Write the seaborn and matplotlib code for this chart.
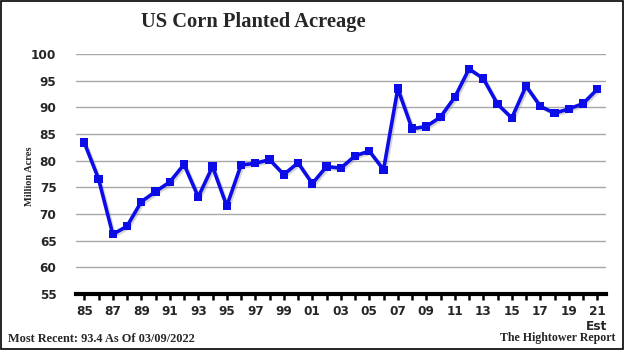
import matplotlib
matplotlib.use("Agg")
import matplotlib.pyplot as plt
import matplotlib.patheffects as pe
from matplotlib.patches import Rectangle
import seaborn as sns
import pandas as pd

# US corn planted acreage, million acres
years = list(range(1985, 2022))
acres = [83.4, 76.6, 66.2, 67.7, 72.3, 74.2, 76.0, 79.3, 73.2, 78.9,
         71.5, 79.2, 79.5, 80.2, 77.4, 79.6, 75.7, 78.9, 78.6, 80.9,
         81.8, 78.3, 93.5, 86.0, 86.4, 88.2, 91.9, 97.2, 95.4, 90.6,
         88.0, 94.0, 90.2, 88.9, 89.7, 90.7, 93.4]
label_years = list(range(1985, 2022, 2))
label_text = ["85", "87", "89", "91", "93", "95", "97", "99", "01", "03",
              "05", "07", "09", "11", "13", "15", "17", "19", "21"]
y_ticks = [55, 60, 65, 70, 75, 80, 85, 90, 95, 100]

df = pd.DataFrame({"year": years, "acres": acres})

sns.set_style("white")
plt.rcParams["font.family"] = ["DejaVu Sans"]

fig = plt.figure(figsize=(6.24, 3.5), dpi=100)
ax = fig.add_axes([76 / 624, 1 - 294 / 350, 530 / 624, 240 / 350])

# horizontal gridlines
for v in y_ticks[1:]:
    ax.axhline(v, color="#a8a8a8", lw=1.0, zorder=1)

sns.lineplot(data=df, x="year", y="acres", ax=ax, color="#0c0ce8",
             lw=2.6, marker="s", markersize=6, markeredgewidth=0,
             zorder=3,
             path_effects=[pe.SimpleLineShadow(offset=(1.2, -1.2),
                                               shadow_color="#888888",
                                               alpha=0.35),
                           pe.Normal()])

ax.set_xlim(1984.42, 2021.61)
ax.set_ylim(55, 100)

ax.set_yticks(y_ticks)
ax.set_yticklabels([str(v) for v in y_ticks], fontsize=8.7, fontweight="bold")
ax.set_xticks(years, minor=True)
ax.set_xticks(label_years)
ax.set_xticklabels(label_text, fontsize=8.7, fontweight="bold")
ax.tick_params(axis="y", left=False, length=0, pad=14)
ax.tick_params(axis="x", which="both", bottom=True, direction="out",
               length=4, width=1.8, color="black", pad=4)
ax.set_xlabel("")
ax.set_ylabel("")

for side in ("top", "right", "left"):
    ax.spines[side].set_visible(False)
ax.spines["bottom"].set_linewidth(3)
ax.spines["bottom"].set_color("black")

serif = ["Liberation Serif", "DejaVu Serif"]
fig.text(253 / 624, 1 - 22 / 350, "US Corn Planted Acreage",
         ha="center", va="center", fontsize=14.8, fontweight="bold",
         family=serif)
fig.text(30 / 624, 1 - 176 / 350, "Million Acres", rotation=90,
         ha="center", va="center", fontsize=7.5, fontweight="bold",
         family=serif)
fig.text(597 / 624, 1 - 326 / 350, "Est", ha="center", va="center",
         fontsize=8.7, fontweight="bold")
fig.text(8 / 624, 1 - 339 / 350, "Most Recent: 93.4 As Of 03/09/2022",
         ha="left", va="center", fontsize=8.8, fontweight="bold",
         family=serif)
fig.text(615 / 624, 1 - 338 / 350, "The Hightower Report",
         ha="right", va="center", fontsize=8.6, fontweight="bold",
         family=serif)

# outer frame
fig.patches.append(Rectangle((0.001, 0.002), 0.997, 0.995,
                             transform=fig.transFigure, fill=False,
                             edgecolor="black", lw=1.2))

fig.savefig("out.png", dpi=100)
